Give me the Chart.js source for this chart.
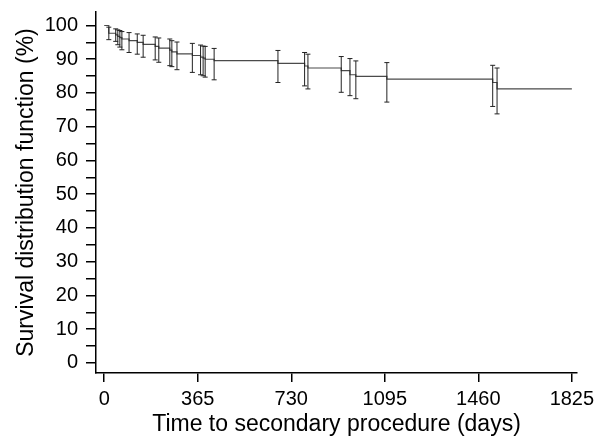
<!DOCTYPE html>
<html>
<head>
<meta charset="utf-8">
<script src="https://cdn.jsdelivr.net/npm/chart.js@4/dist/chart.umd.min.js"></script>
<style>
  html, body { margin: 0; padding: 0; background: #fff; }
  #wrap { width: 594px; height: 442px; }
</style>
</head>
<body>
<div id="wrap"><canvas id="c" width="594" height="442"></canvas></div>
<script>
// Event times (days) and Kaplan-Meier survival (%) with confidence limits
const eventDays = [18, 45, 53, 61, 69, 97, 129, 152, 199, 213, 256, 264, 284, 344, 376, 386, 394, 429, 678, 782, 795, 925, 959, 982, 1103, 1516, 1533];
const survival  = [97.7, 97.2, 96.8, 96.4, 96.0, 95.5, 95.0, 94.4, 93.8, 93.3, 92.7, 92.2, 91.6, 91.1, 90.6, 90.3, 90.0, 89.6, 88.8, 88.0, 87.4, 86.6, 85.4, 84.9, 84.1, 83.1, 81.2];
const ciUpper   = [99.5, 99.0, 98.7, 98.5, 98.2, 97.9, 97.5, 97.1, 96.6, 96.3, 96.0, 95.5, 95.1, 94.7, 94.2, 93.9, 93.8, 93.2, 92.6, 92.0, 91.5, 90.8, 90.2, 89.5, 89.0, 88.2, 87.4];
const ciLower   = [95.8, 95.3, 94.3, 93.6, 92.8, 92.0, 91.5, 90.6, 89.8, 89.1, 88.1, 87.8, 86.9, 86.1, 85.4, 85.1, 84.7, 83.9, 83.1, 82.1, 81.2, 80.2, 79.2, 78.3, 77.3, 76.0, 73.8];
const startSurvival = 100;
const endDay = 1825;
const xTickValues = [0, 365, 730, 1095, 1460, 1825];
const yTickValues = [0, 5, 10, 15, 20, 25, 30, 35, 40, 45, 50, 55, 60, 65, 70, 75, 80, 85, 90, 95, 100];
const xTitle = 'Time to secondary procedure (days)';
const yTitle = 'Survival distribution function (%)';

const curve = [{x: 0, y: startSurvival}]
  .concat(eventDays.map((d, i) => ({x: d, y: survival[i]})))
  .concat([{x: endDay, y: survival[survival.length - 1]}]);

const datasets = [{
  data: curve,
  borderColor: '#4a4a4a',
  borderWidth: 1.2,
  stepped: 'before',
  pointRadius: 0,
  fill: false,
  order: 1
}];
eventDays.forEach((d, i) => {
  datasets.push({
    data: [{x: d, y: ciLower[i]}, {x: d, y: ciUpper[i]}],
    borderColor: '#222',
    borderWidth: 1,
    pointStyle: 'line',
    pointRadius: 2.5,
    pointBorderColor: '#222',
    pointBorderWidth: 1,
    fill: false,
    order: 0
  });
});

const fontFamily = "'Liberation Sans', Arial, Helvetica, sans-serif";

new Chart(document.getElementById('c'), {
  type: 'line',
  data: { datasets },
  options: {
    responsive: false,
    animation: false,
    events: [],
    layout: { padding: { top: 12, right: 17, left: 0, bottom: 0 } },
    plugins: { legend: { display: false }, tooltip: { enabled: false } },
    scales: {
      x: {
        type: 'linear',
        min: -32,
        max: 1845,
        afterBuildTicks: s => { s.ticks = xTickValues.map(v => ({value: v})); },
        afterFit: s => { s.height = 69; s.paddingLeft = 0; s.paddingRight = 0; },
        ticks: {
          color: '#000',
          font: { family: fontFamily, size: 20 },
          padding: 5,
          autoSkip: false,
          maxRotation: 0,
          callback: v => String(v)
        },
        grid: { drawOnChartArea: false, drawTicks: true, tickLength: 9, color: '#000', lineWidth: 1.5 },
        border: { display: true, color: '#000', width: 1.5 },
        title: {
          display: true,
          text: xTitle,
          color: '#000',
          font: { family: fontFamily, size: 23 },
          padding: { top: 0, bottom: 4 }
        }
      },
      y: {
        type: 'linear',
        min: -3,
        max: 104,
        afterBuildTicks: s => { s.ticks = yTickValues.map(v => ({value: v})); },
        afterFit: s => { s.width = 96; s.paddingTop = 0; s.paddingBottom = 0; },
        ticks: {
          color: '#000',
          font: { family: fontFamily, size: 20 },
          padding: 8,
          autoSkip: false,
          callback: v => (v % 10 === 0 ? String(v) : '')
        },
        grid: { drawOnChartArea: false, drawTicks: true, tickLength: 10, color: '#000', lineWidth: 1.5 },
        border: { display: true, color: '#000', width: 1.5 },
        title: {
          display: true,
          text: yTitle,
          color: '#000',
          font: { family: fontFamily, size: 23 },
          padding: { top: 13, bottom: 0 }
        }
      }
    }
  }
});
</script>
</body>
</html>
